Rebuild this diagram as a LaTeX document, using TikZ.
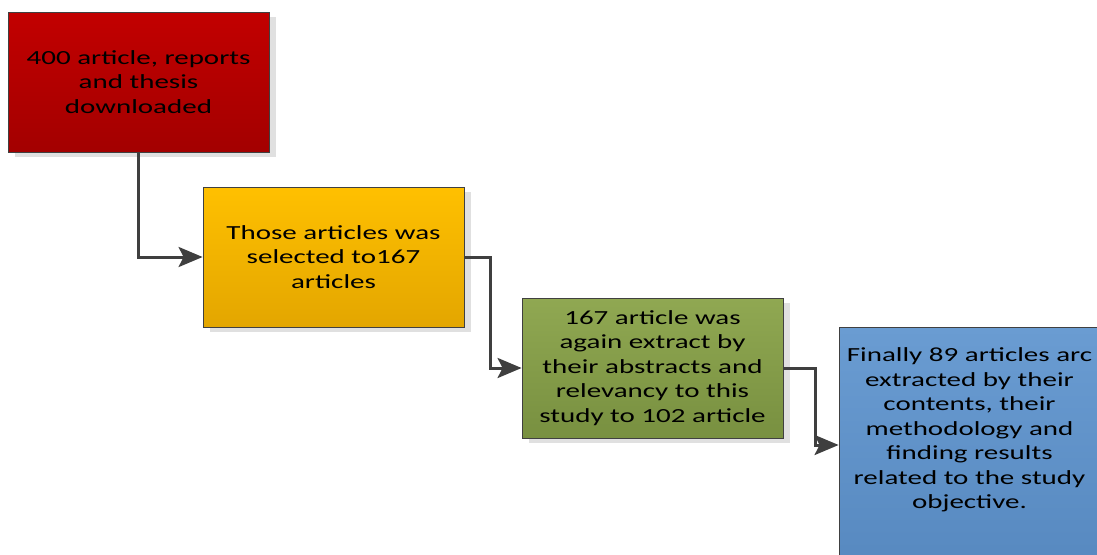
\documentclass[tikz,border=0pt]{standalone}
\usepackage{fontspec}
\setmainfont{Carlito}[FakeStretch=1.45]
\usetikzlibrary{arrows.meta,shadows}
\definecolor{redT}{HTML}{C20000}
\definecolor{redB}{HTML}{A30000}
\definecolor{yelT}{HTML}{FFC000}
\definecolor{yelB}{HTML}{E3A600}
\definecolor{grnT}{HTML}{90A852}
\definecolor{grnB}{HTML}{789040}
\definecolor{bluT}{HTML}{6A9CD2}
\definecolor{bluB}{HTML}{5789C0}
\definecolor{edge}{HTML}{404040}
\definecolor{link}{HTML}{3F3F3F}
\tikzset{
  x=1pt, y=-1pt,
  stage/.style={draw=edge, line width=0.8pt, shading=axis, shading angle=0,
    minimum width=261pt, minimum height=140pt, inner sep=0pt,
    align=center, font=\fontsize{20}{24.5}\selectfont,
    drop shadow={shadow xshift=7pt, shadow yshift=-5pt, fill=black!12, opacity=1}},
  flow/.style={draw=link, line width=3pt,
    -{Stealth[length=24pt, width=20pt, inset=5pt]}}
}
\begin{document}
\begin{tikzpicture}
\useasboundingbox (0,0) rectangle (1097,554);
\clip (0,0) rectangle (1097,554);
\node[stage, top color=redT, bottom color=redB] (red) at (138.5,82)
  {400 article, reports\\and thesis\\downloaded};
\node[stage, top color=yelT, bottom color=yelB] (yel) at (333.5,257)
  {Those articles was\\selected to167\\articles};
\node[stage, top color=grnT, bottom color=grnB] (grn) at (652.5,368)
  {167 article was\\again extract by\\their abstracts and\\relevancy to this\\study to 102 article};
\node[stage, top color=bluT, bottom color=bluB, minimum height=236pt] (blu) at (969.5,445) {};
\node[align=center, font=\fontsize{20}{24.5}\selectfont, inner sep=0pt] (bluText) at (969.5,430)
  {Finally 89 articles arc\\extracted by their\\contents, their\\methodology and\\finding results\\related to the study\\objective.};
\draw[flow] (red.south) |- (yel.west);
\draw[flow] (yel.east) -- ++(26,0) |- (grn.west);
\draw[flow] (grn.east) -- ++(32,0) |- (blu.west);
\end{tikzpicture}
\end{document}
